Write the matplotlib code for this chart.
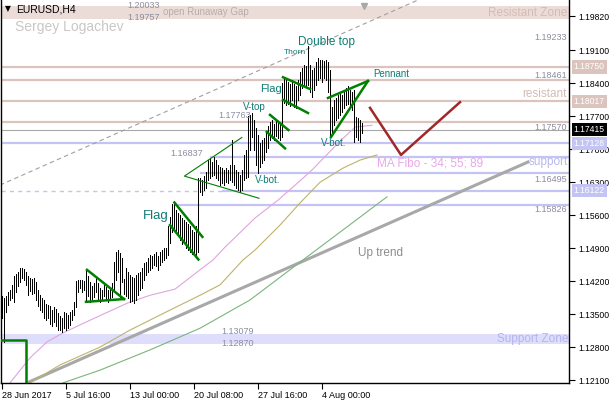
import matplotlib
matplotlib.use("Agg")
import matplotlib.pyplot as plt

plt.rcParams['font.family'] = ['Liberation Sans', 'DejaVu Sans']

# EURUSD H4 bars, bar 0 = 28 Jun 2017 08:00
highs = [1.1388, 1.1384, 1.1388, 1.1397, 1.1401, 1.1412, 1.1431, 1.1435, 1.1439, 1.1448,
         1.1448, 1.1446, 1.1439, 1.1431, 1.1427, 1.1424, 1.1427, 1.1418, 1.1401, 1.1390,
         1.1384, 1.1380, 1.1371, 1.1369, 1.1367, 1.1359, 1.1365, 1.1361, 1.1352, 1.1346,
         1.1342, 1.1354, 1.1352, 1.1348, 1.1354, 1.1359, 1.1376, 1.1420, 1.1422, 1.1422,
         1.1422, 1.1420, 1.1444, 1.1431, 1.1418, 1.1410, 1.1416, 1.1427, 1.1416, 1.1405,
         1.1401, 1.1412, 1.1407, 1.1401, 1.1405, 1.1416, 1.1461, 1.1482, 1.1486, 1.1480,
         1.1469, 1.1424, 1.1448, 1.1439, 1.1433, 1.1429, 1.1427, 1.1433, 1.1437, 1.1439,
         1.1448, 1.1458, 1.1461, 1.1469, 1.1475, 1.1473, 1.1478, 1.1482, 1.1473, 1.1482,
         1.1486, 1.1490, 1.1490, 1.1537, 1.1556, 1.1584, 1.1586, 1.1571, 1.1565, 1.1560,
         1.1554, 1.1550, 1.1546, 1.1541, 1.1537, 1.1529, 1.1524, 1.1537, 1.1639, 1.1639,
         1.1635, 1.1643, 1.1652, 1.1677, 1.1681, 1.1673, 1.1684, 1.1677, 1.1667, 1.1662,
         1.1660, 1.1656, 1.1660, 1.1656, 1.1667, 1.1720, 1.1667, 1.1656, 1.1652, 1.1645,
         1.1656, 1.1688, 1.1698, 1.1770, 1.1773, 1.1776, 1.1762, 1.1745, 1.1730, 1.1713,
         1.1720, 1.1724, 1.1737, 1.1749, 1.1758, 1.1762, 1.1754, 1.1762, 1.1758, 1.1754,
         1.1841, 1.1853, 1.1847, 1.1843, 1.1839, 1.1847, 1.1839, 1.1834, 1.1847, 1.1864,
         1.1873, 1.1879, 1.1877, 1.1920, 1.1879, 1.1868, 1.1873, 1.1885, 1.1894, 1.1890,
         1.1890, 1.1887, 1.1890, 1.1885, 1.1868, 1.1790, 1.1805, 1.1809, 1.1815, 1.1822,
         1.1815, 1.1826, 1.1830, 1.1834, 1.1826, 1.1822, 1.1826, 1.1769, 1.1766, 1.1762,
         1.1756]
lows = [1.1342, 1.1291, 1.1354, 1.1369, 1.1380, 1.1384, 1.1376, 1.1397, 1.1410, 1.1418,
        1.1427, 1.1422, 1.1412, 1.1390, 1.1399, 1.1393, 1.1395, 1.1380, 1.1367, 1.1359,
        1.1354, 1.1342, 1.1337, 1.1342, 1.1329, 1.1325, 1.1333, 1.1325, 1.1316, 1.1316,
        1.1312, 1.1320, 1.1316, 1.1320, 1.1327, 1.1337, 1.1348, 1.1365, 1.1397, 1.1405,
        1.1397, 1.1401, 1.1380, 1.1388, 1.1376, 1.1380, 1.1386, 1.1397, 1.1380, 1.1376,
        1.1380, 1.1388, 1.1380, 1.1376, 1.1380, 1.1386, 1.1401, 1.1422, 1.1439, 1.1386,
        1.1418, 1.1393, 1.1388, 1.1384, 1.1376, 1.1378, 1.1373, 1.1380, 1.1390, 1.1401,
        1.1405, 1.1422, 1.1433, 1.1439, 1.1444, 1.1448, 1.1454, 1.1452, 1.1444, 1.1454,
        1.1461, 1.1465, 1.1469, 1.1475, 1.1501, 1.1524, 1.1533, 1.1524, 1.1516, 1.1507,
        1.1499, 1.1503, 1.1490, 1.1486, 1.1482, 1.1478, 1.1475, 1.1469, 1.1482, 1.1609,
        1.1603, 1.1613, 1.1618, 1.1635, 1.1639, 1.1643, 1.1645, 1.1639, 1.1635, 1.1624,
        1.1628, 1.1624, 1.1630, 1.1628, 1.1635, 1.1630, 1.1624, 1.1618, 1.1613, 1.1609,
        1.1613, 1.1635, 1.1639, 1.1641, 1.1698, 1.1726, 1.1698, 1.1667, 1.1650, 1.1662,
        1.1671, 1.1677, 1.1694, 1.1703, 1.1720, 1.1724, 1.1720, 1.1728, 1.1724, 1.1720,
        1.1726, 1.1798, 1.1794, 1.1796, 1.1792, 1.1805, 1.1790, 1.1788, 1.1805, 1.1815,
        1.1830, 1.1836, 1.1832, 1.1836, 1.1822, 1.1811, 1.1826, 1.1836, 1.1847, 1.1851,
        1.1843, 1.1851, 1.1847, 1.1822, 1.1726, 1.1730, 1.1751, 1.1762, 1.1766, 1.1773,
        1.1779, 1.1788, 1.1794, 1.1796, 1.1792, 1.1783, 1.1715, 1.1726, 1.1720, 1.1715,
        1.1735]
last_price = 1.17415

date_ticks = [0, 32, 64, 96, 128, 160]
date_labels = ['28 Jun 2017', '5 Jul 16:00', '13 Jul 00:00', '20 Jul 08:00',
               '27 Jul 16:00', '4 Aug 00:00']
price_ticks = [1.19820, 1.19100, 1.18400, 1.17700, 1.17000, 1.16300,
               1.15600, 1.14900, 1.14200, 1.13500, 1.12800, 1.12100]

# MA Fibo 34 / 55 / 89
ma34_x = [4, 14, 22.5, 30.5, 44, 62.5, 74, 86.5, 99, 105.5, 111.5, 126.5, 138, 149, 155, 168, 176.5, 185]
ma34_y = [1.1204, 1.1257, 1.1291, 1.1310, 1.1337, 1.1373, 1.1390, 1.1403, 1.1444, 1.1465,
          1.1492, 1.1554, 1.1592, 1.1633, 1.1656, 1.1713, 1.1747, 1.1751]
ma55_x = [14, 29, 49, 64, 79, 99, 109, 120.5, 126.5, 139, 149, 159, 170.5, 179, 187.5]
ma55_y = [1.1204, 1.1242, 1.1280, 1.1316, 1.1348, 1.1390, 1.1412, 1.1465, 1.1486, 1.1539,
          1.1586, 1.1630, 1.1660, 1.1677, 1.1688]
ma89_x = [30.5, 49, 74, 99, 124, 150.5, 169, 192.5]
ma89_y = [1.1204, 1.1231, 1.1274, 1.1320, 1.1380, 1.1465, 1.1524, 1.1599]

# horizontal levels
res_zone = (1.19757, 1.20033)
sup_zone = (1.12870, 1.13079)
pink_levels = [1.18750, 1.18461, 1.18017, 1.17570]
blue_levels = [(1.17128, -1), (1.16837, 104), (1.16495, 99), (1.16122, 110), (1.15826, 86)]

# drawn objects: (bar, price) end points
uptrend = ([12.5, 263], [1.1204, 1.1673])
channel = ([-1, 208], [1.1624, 1.2017])
green_step = ([-1, 12, 12], [1.1295, 1.1295, 1.1204])
patterns = [
    ([42.5, 61], [1.1444, 1.1382]), ([42, 61], [1.1376, 1.1382]),
    ([86.2, 100.2], [1.1587, 1.1514]), ([84, 98.2], [1.1539, 1.1466]),
    ([134, 143.2], [1.1773, 1.1741]), ([132.4, 141.5], [1.1737, 1.1702]),
    ([140.5, 154], [1.1853, 1.1828]), ([140.5, 153], [1.1805, 1.1777]),
    ([163, 183], [1.1809, 1.1845]), ([164.5, 183], [1.1726, 1.1845]),
]
triangle = ([119.9, 91.2, 128.5], [1.1725, 1.1643, 1.1596])
forecast = ([184, 199.5, 229], [1.1788, 1.1688, 1.1800])

W, H = 610, 400
fig = plt.figure(figsize=(6.1, 4.0), dpi=100)
ax = fig.add_axes([1 / W, 17 / H, 568 / W, 383 / H])
ax.set_xlim(-0.5, 283.5)
ax.set_ylim(1.12037, 1.20170)

ax.axhspan(*res_zone, color='#ecdcd8', lw=0, zorder=0)
ax.axhspan(*sup_zone, color='#dedefc', lw=0, zorder=0)
for p in pink_levels:
    ax.axhline(p, color='#dcc4be', lw=1.6, zorder=1)
for p, start in blue_levels:
    ax.hlines(p, start, 283.5, color='#c4c4f4', lw=1.6, zorder=1)
ax.hlines(1.16122, -0.5, 110, color='#c4c4f4', lw=1, ls=(0, (3, 3)), zorder=1)
ax.axhline(last_price, color='#a8a8a8', lw=0.8, zorder=1)

ax.plot(*channel, color='#a0a0a0', lw=0.8, ls=(0, (4, 3)), zorder=2)
ax.plot(*uptrend, color='#a8a8a8', lw=2.2, zorder=2)
ax.plot(ma34_x, ma34_y, color='#e0a4e0', lw=0.8, zorder=2)
ax.plot(ma55_x, ma55_y, color='#bcb468', lw=0.8, zorder=2)
ax.plot(ma89_x, ma89_y, color='#7cb47c', lw=0.8, zorder=2)

ax.vlines(range(len(highs)), lows, highs, color='black', lw=0.55,
          antialiased=False, zorder=3)

for xs, ys in patterns:
    ax.plot(xs, ys, color='#008000', lw=1.8, zorder=4)
ax.plot(*triangle, color='#008000', lw=0.8, zorder=4)
ax.plot(*green_step, color='#008000', lw=1.8, zorder=4)
ax.plot(*forecast, color='#a02828', lw=1.8, zorder=4)

ax.spines['top'].set_visible(False)
for s in ['left', 'bottom', 'right']:
    ax.spines[s].set_linewidth(1)
ax.yaxis.tick_right()
ax.set_yticks(price_ticks)
ax.set_yticklabels(['%.5f' % p for p in price_ticks])
ax.set_xticks(date_ticks)
ax.set_xticklabels(date_labels)
for lbl in ax.get_xticklabels():
    lbl.set_ha('left')
ax.tick_params(axis='both', length=4, width=0.8, labelsize=6.5, pad=1.5)
ax.tick_params(axis='y', labelsize=6.2, pad=2.5)

# price boxes on the scale
ytr = ax.get_yaxis_transform()
boxes = [(1.18750, '#dcc4be', 'white'), (1.18017, '#dcc4be', 'white'),
         (last_price, 'black', 'white'), (1.17128, '#c4c4f4', 'white'),
         (1.16122, '#c4c4f4', 'white')]
for p, fc, tc in boxes:
    ax.text(1.0085, p, '%.5f' % p, transform=ytr, color=tc, fontsize=6.2, va='center',
            ha='left', clip_on=False, zorder=5,
            bbox=dict(boxstyle='square,pad=0.25', fc=fc, ec='none'))


def tx(x, y, s, **kw):
    fig.text(x / W, 1 - y / H, s, va='center', **kw)


num = dict(color='#8c8ca0', fontsize=6.5)
tx(567, 37, '1.19233', ha='right', **num)
tx(567, 76, '1.18461', ha='right', **num)
tx(567, 127, '1.17570', ha='right', **num)
tx(567, 180, '1.16495', ha='right', **num)
tx(567, 209, '1.15826', ha='right', **num)
tx(127, 6, '1.20033', **num)
tx(127, 18, '1.19757', **num)
tx(218, 116, '1.17763', **num)
tx(170, 153, '1.16837', **num)
tx(221, 332, '1.13079', **num)
tx(221, 344, '1.12870', **num)

tx(163, 12, 'open Runaway Gap', color='#b8acaa', fontsize=7)
tx(567, 13, 'Resistant Zone', ha='right', color='#d4bcb6', fontsize=8.5)
tx(567, 94, 'resistant', ha='right', color='#d4bcb6', fontsize=8.5)
tx(568, 162, 'support', ha='right', color='#b8b8f0', fontsize=8.5)
tx(568, 339, 'Support Zone', ha='right', color='#b4b4f0', fontsize=8.5)
tx(377, 164, 'MA Fibo - 34; 55; 89', color='#e8a8e8', fontsize=8.5)
tx(358, 253, 'Up trend', color='#8c8c8c', fontsize=8.5)
tx(15, 27, 'Sergey Logachev', color='#c8c8c8', fontsize=10)
tx(5, 9, '\u25bc', color='black', fontsize=5.5, family='DejaVu Sans')
tx(16, 9, 'EURUSD,H4', color='black', fontsize=7.5)
ax.plot([181], [1.2005], marker='v', color='#a8a8a8', ms=5, clip_on=False, zorder=5)

lab = dict(color='#0e7c74')
tx(143, 216, 'Flag', fontsize=9.5, **lab)
tx(260, 89, 'Flag', fontsize=8, **lab)
tx(298, 42, 'Double top', fontsize=8.5, **lab)
tx(284, 52, 'Thorn', fontsize=6, **lab)
tx(243, 107, 'V-top', fontsize=7, **lab)
tx(255, 180, 'V-bot.', fontsize=7, **lab)
tx(321, 143, 'V-bot.', fontsize=7, **lab)
tx(373, 74, 'Pennant', fontsize=7, **lab)

fig.savefig('out.png', dpi=100)
